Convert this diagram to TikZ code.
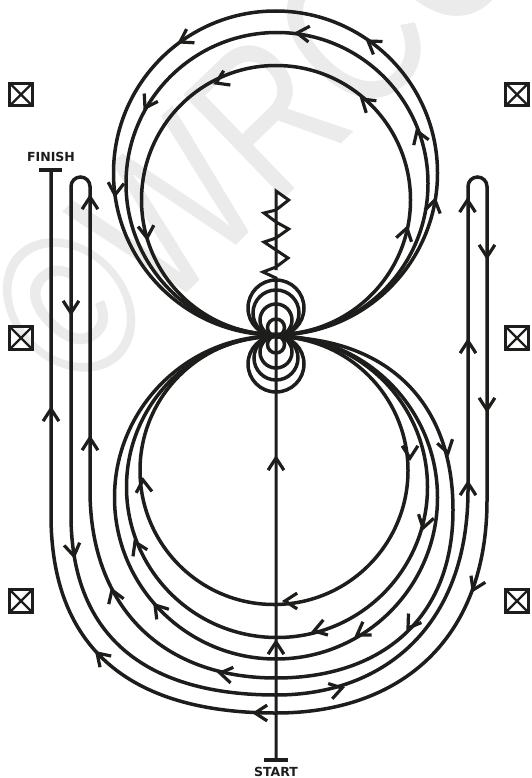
\documentclass[tikz,border=0pt]{standalone}
\usepackage{fontspec}
\setsansfont{DejaVu Sans}
\newfontfamily\wmfont{Liberation Sans}
\usetikzlibrary{calc}
\definecolor{ink}{HTML}{1D1D1B}
\definecolor{wm}{HTML}{EBEBEB}
\tikzset{
  x=1pt,y=-1pt,
  route/.style={draw=ink,line width=3.5pt},
  thinroute/.style={draw=ink,line width=3pt,line join=miter},
  headline/.style={draw=ink,line width=3.2pt,line join=miter},
  bar/.style={draw=ink,line width=3.6pt},
  label/.style={font=\sffamily\bfseries\fontsize{12.5}{12.5}\selectfont,text=ink,inner sep=0pt},
  cone/.style={draw=ink,line width=3pt,minimum size=22.5pt,inner sep=0pt,
    path picture={\draw[ink,line width=2.4pt] (path picture bounding box.north west)--(path picture bounding box.south east)
      (path picture bounding box.north east)--(path picture bounding box.south west);}},
}
\newcommand\arw[3]{\draw[headline] ($(#1,#2)+({-(#3)-147}:14.5)$) -- (#1,#2) -- ($(#1,#2)+({-(#3)+147}:14.5)$);}
\begin{document}
\begin{tikzpicture}
\useasboundingbox (0,0) rectangle (531,778);
\begin{scope}
\clip (0,0) rectangle (531,778);
\node[text=wm,font=\wmfont\fontsize{210}{210}\selectfont,rotate=44,xscale=.78,inner sep=0pt,anchor=base west] (mark) at (76,400) {©WRCC};
\end{scope}
% upper circles
\draw[route] (276,200) circle[radius=134.5];
\draw[route] (277,183.5) circle[radius=151];
\draw[route] (275.5,173) circle[radius=162];
% lower circles
\draw[route] (274,470.5) circle[radius=134];
\draw[route] (277,487) circle[radius=150.5];
\draw[route] (276,497.5) circle[radius=161.5];
% small circles
\foreach \r in {28,23,16,8.5}{
  \draw[route] (276,336-\r) circle[radius=\r];
}
\foreach \r in {28,22,16,8.5}{
  \draw[route] (276,336+\r) circle[radius=\r];
}
% spiral
\draw[route] (276,337) .. controls (385,337) and (453,400) .. (453,510)
  .. controls (453,620) and (380,678) .. (276,678)
  .. controls (165,678) and (90,610) .. (90,490) -- (90,186.5)
  arc[start angle=0,end angle=-180,radius=9.5] -- (71,515)
  .. controls (71,640) and (150,695) .. (276,695)
  .. controls (385,695) and (468,625) .. (468,490) -- (468,186.5)
  arc[start angle=180,end angle=360,radius=9.5] -- (487,500)
  .. controls (487,640) and (400,713) .. (276,713)
  .. controls (126,713) and (51,645) .. (51,515) -- (51,170);
\draw[bar] (39,170) -- (62,170);
% centre line
\draw[thinroute] (276,760) -- (276,278) -- (263,272) -- (276,267) -- (288,258) -- (276,250) -- (264,242) -- (276,238) -- (288.7,229) -- (276,222) -- (264,213) -- (276,210) -- (288.7,200) -- (276,191) -- (276,270);
\draw[bar] (264,760) -- (288,760);
\node[label] (finish) at (51,157) {FINISH};
\node[label] (start) at (276,772) {START};
% markers
\node[cone] (m1) at (21,94.5) {}; \node[cone] (m2) at (21,338) {}; \node[cone] (m3) at (21,601) {};
\node[cone] (m4) at (517,94.5) {}; \node[cone] (m5) at (517,338) {}; \node[cone] (m6) at (517,601) {};
% arrows top
\arw{180}{42}{210}\arw{368}{41}{145}\arw{115}{195}{265}
\arw{297}{33}{175}\arw{145}{108}{240}\arw{417}{131}{110}
\arw{216}{83}{205}\arw{362}{99}{140}
\arw{147}{238}{275}\arw{407}{228}{75}\arw{435}{200}{78}
% arrows lower right
\arw{410}{458}{270}\arw{285}{601}{180}\arw{423}{528}{255}\arw{314}{631}{197}
\arw{357}{635}{213}\arw{448}{453}{285}\arw{408}{628}{235}
\arw{468}{483}{90}\arw{468}{341}{90}\arw{487}{410}{270}\arw{473}{590}{245}\arw{342}{688}{15}
\arw{276}{458}{90}\arw{276}{642}{90}
% arrows lower left
\arw{255}{713}{180}\arw{220}{673}{170}\arw{97}{653}{135}\arw{112}{590}{110}\arw{155}{605}{130}
\arw{51}{409}{90}\arw{90}{438}{90}\arw{74}{556}{280}\arw{143}{480}{95}\arw{135}{542}{115}
\arw{90}{197}{90}\arw{71}{313}{270}
\arw{467.5}{200}{90}\arw{487}{257}{270}
\end{tikzpicture}
\end{document}
